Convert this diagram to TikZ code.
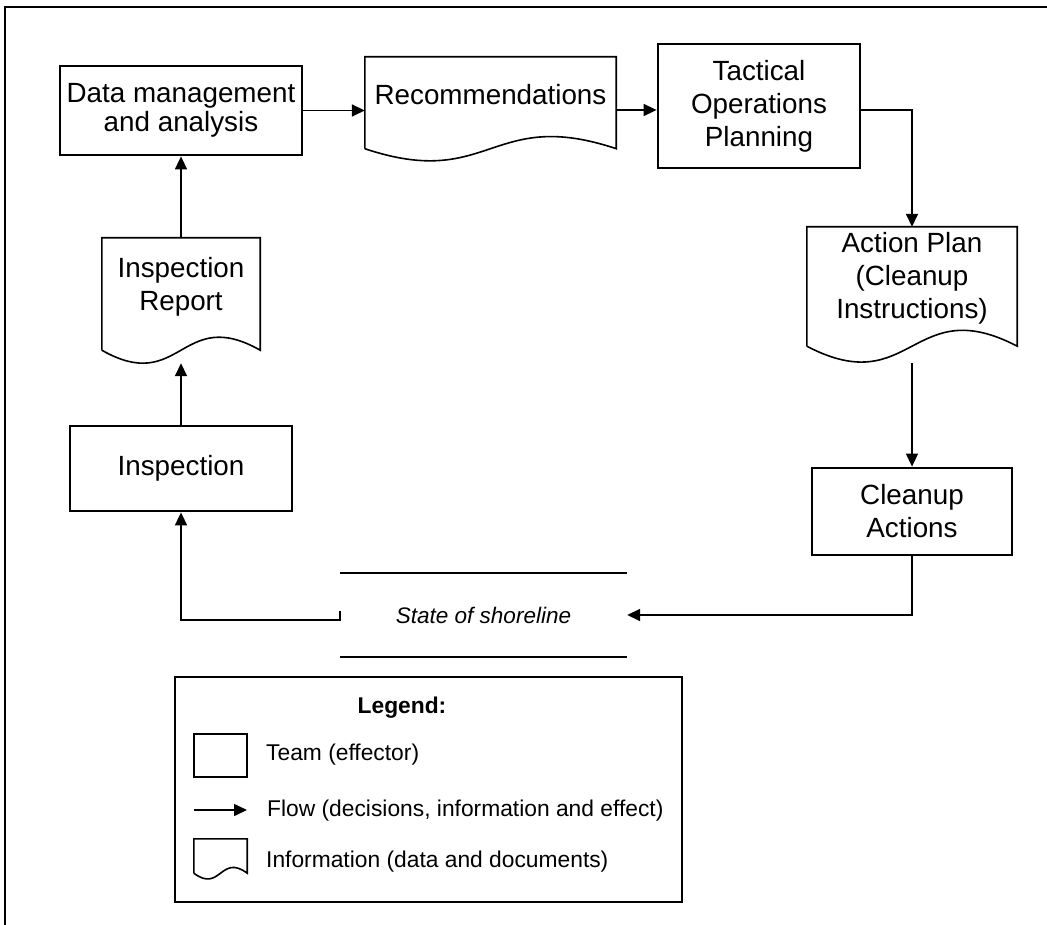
\documentclass[tikz,border=0pt]{standalone}
\usepackage{fontspec}
\setmainfont{Liberation Sans}
\usetikzlibrary{arrows.meta,calc}
\begin{document}
\begin{tikzpicture}[x=1pt,y=-1pt,
  team/.style={draw,line width=2.8pt,minimum width=#1,inner sep=0pt,align=center,font=\fontsize{27.8}{33}\selectfont},
  docbox/.style={inner sep=0pt,minimum width=#1},
  doctext/.style={align=center,inner sep=0pt,font=\fontsize{27.8}{33}\selectfont},
  docline/.style={line width=1.6pt},
  flow/.style={line width=1.6pt,-{Triangle[length=13pt,width=12pt]}},
  leg/.style={anchor=west,inner sep=0pt,font=\fontsize{22.8}{27}\selectfont}]
\useasboundingbox (0,0) rectangle (1047,925);
% outer frame (cropped)
\draw[line width=2pt] (5,925) -- (5,7) -- (1047,7);

% team boxes
\node[team=242pt,minimum height=89pt,font=\fontsize{27.8}{29}\selectfont] (dm) at (181,110.5) {Data management\\and analysis};
\node[team=202pt,minimum height=124pt] (tac) at (759,106) {Tactical\\Operations\\Planning};
\node[team=200pt,minimum height=87pt] (cln) at (912,511.5) {Cleanup\\Actions};
\node[team=222pt,minimum height=85pt] (insp) at (181,468.5) {Inspection};

% document shapes
\node[docbox=251pt,minimum height=91.5pt] (rec) at (490.5,102.75) {};
\draw[docline] (rec.south west) -- (rec.north west) -- (rec.north east) -- (rec.south east)
  .. controls ([yshift=42pt]rec.south) and ([yshift=-42pt]rec.south) .. (rec.south west);
\node[doctext] (rect) at ([yshift=8pt]rec.center) {Recommendations};

\node[docbox=210pt,minimum height=119pt] (act) at (912,286.5) {};
\draw[docline] (act.south west) -- (act.north west) -- (act.north east) -- (act.south east)
  .. controls ([yshift=55pt]act.south) and ([yshift=-55pt]act.south) .. (act.south west);
\node[doctext] (actt) at ([yshift=8pt]act.center) {Action Plan\\(Cleanup\\Instructions)};

\node[docbox=158pt,minimum height=112pt] (irep) at (181,294) {};
\draw[docline] (irep.south west) -- (irep.north west) -- (irep.north east) -- (irep.south east)
  .. controls ([yshift=45pt]irep.south) and ([yshift=-45pt]irep.south) .. (irep.south west);
\node[doctext] (irept) at ([yshift=7.5pt]irep.center) {Inspection\\Report};

% state of shoreline
\node[inner sep=0pt,minimum width=287pt,minimum height=84pt,font=\fontsize{22.5}{27}\selectfont\itshape] (shore) at (483.5,615) {State of shoreline};
\draw[line width=2pt] (shore.north west) -- (shore.north east);
\draw[line width=2pt] (shore.south west) -- (shore.south east);

% connectors
\draw[flow] (dm.east) -- (dm.east -| rec.west);
\draw[flow] ([yshift=-4pt]tac.west -| rec.east) -- ([yshift=-4pt]tac.west);
\draw[flow] ([yshift=-4pt]tac.east) -| (act.north);
\draw[flow] ([yshift=-17pt]act.south) -- (cln.north);
\draw[flow] (cln.south) |- (shore.east);
\draw[flow] ([yshift=4pt]shore.west) -- ([yshift=-5pt]shore.west) -| (insp.south);
\draw[flow] (insp.north) -- ([yshift=-13pt]irep.south);
\draw[flow] (irep.north) -- (dm.south);

% legend
\node[draw,line width=2pt,minimum width=507pt,minimum height=225pt,inner sep=0pt] (legend) at (428.5,789.5) {};
\node[inner sep=0pt,font=\fontsize{22.8}{27}\selectfont\bfseries] (legt) at (402,708) {Legend:};
\node[draw,line width=2.8pt,minimum width=53pt,minimum height=43pt,inner sep=0pt] (lteam) at (220.5,755.5) {};
\node[leg] (lteamt) at (266,755) {Team (effector)};
\coordinate (lf1) at (194,810);
\coordinate (lf2) at (247,810);
\draw[flow] (lf1) -- (lf2);
\node[leg] (lflowt) at (267,811) {Flow (decisions, information and effect)};
\node[docbox=53pt,minimum height=34pt] (ldoc) at (220.5,856) {};
\draw[docline] (ldoc.south west) -- (ldoc.north west) -- (ldoc.north east) -- (ldoc.south east)
  .. controls ([yshift=20pt]ldoc.south) and ([yshift=-20pt]ldoc.south) .. (ldoc.south west);
\node[leg] (ldoct) at (266,862) {Information (data and documents)};
\end{tikzpicture}
\end{document}
